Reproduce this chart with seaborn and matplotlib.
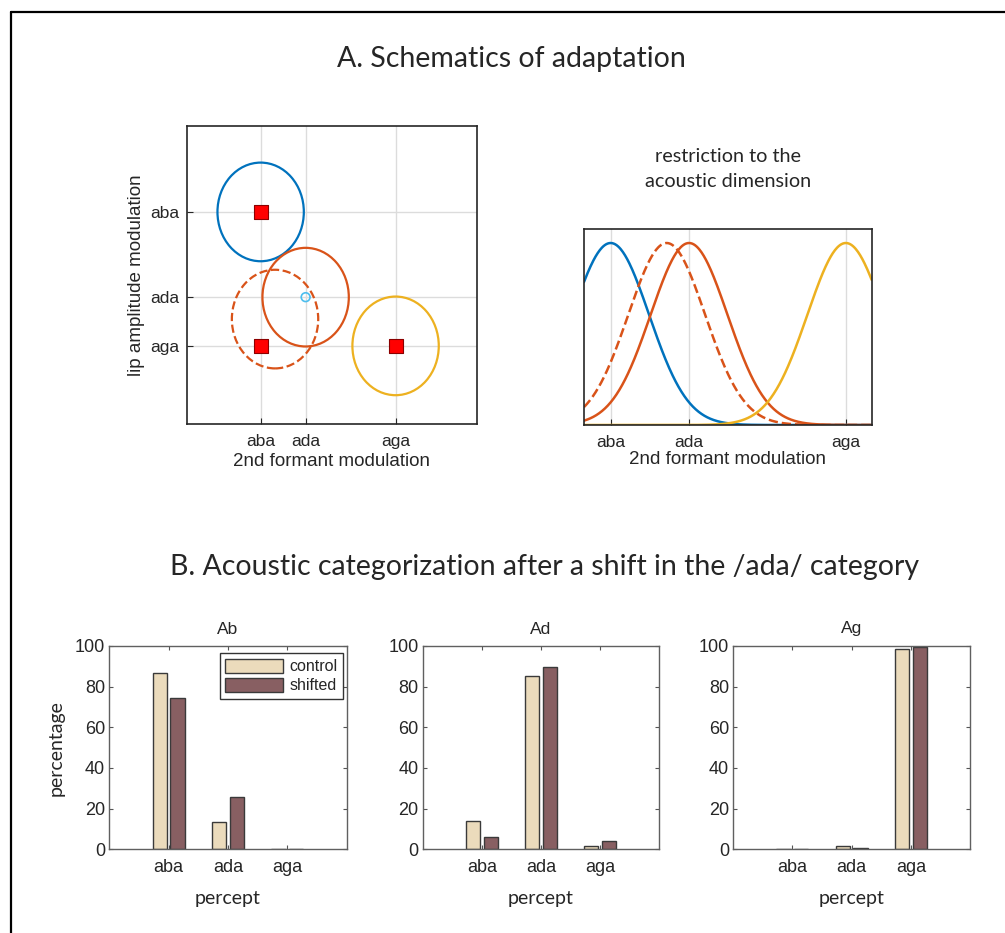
import numpy as np
import pandas as pd
import matplotlib
matplotlib.use('Agg')
import matplotlib.pyplot as plt
from matplotlib.patches import Ellipse
from matplotlib.lines import Line2D
import seaborn as sns

# ---- data ----
phonemes = ['aba', 'ada', 'aga']
formant_pos = [1.0, 2.0, 4.0]   # category positions on the 2nd formant axis
lip_pos = [0.80, 0.45, 0.25]    # category positions on the lip amplitude axis

# category ellipses in the 2D space
ell_x = [1.0, 2.0, 1.32, 4.0]
ell_y = [0.80, 0.45, 0.36, 0.25]
ell_w = 1.92
ell_h = 0.405
ell_colors = ['#0072BD', '#D95319', '#D95319', '#EDB120']
ell_styles = ['-', '-', '--', '-']

# stimuli (red squares)
stim_x = [1.0, 1.0, 4.0]
stim_y = [0.80, 0.25, 0.25]

# 1D restriction: gaussian centers and common width
curve_centers = [1.0, 1.715, 2.0, 4.0]
curve_sigma = 0.49
curve_colors = ['#0072BD', '#D95319', '#D95319', '#EDB120']
curve_styles = ['-', '--', '-', '-']

percepts = ['aba', 'ada', 'aga']
ab_control = [86.6, 13.6, 0.2]
ab_shifted = [74.6, 25.6, 0.2]
ad_control = [13.9, 85.2, 1.5]
ad_shifted = [6.2, 89.7, 4.3]
ag_control = [0.2, 1.4, 98.7]
ag_shifted = [0.2, 0.6, 99.7]

sns.set_style('white')
plt.rcParams['font.family'] = ['Liberation Sans', 'DejaVu Sans']
CAL = 'Lato'

W, H = 1005, 933
fig = plt.figure(figsize=(W / 100, H / 100), dpi=100)


def px_axes(l, t, r, b):
    return fig.add_axes([l / W, 1 - b / H, (r - l) / W, (b - t) / H])


# figure frame (top + left only, as in the source)
fig.add_artist(Line2D([11 / W, 1], [1 - 11.5 / H] * 2, transform=fig.transFigure, color='black', lw=1.6))
fig.add_artist(Line2D([11 / W] * 2, [0, 1 - 11.5 / H], transform=fig.transFigure, color='black', lw=1.6))

fig.text(511 / W, 1 - 59 / H, 'A. Schematics of adaptation', family=CAL, fontsize=20.5, ha='center', va='center')
fig.text(545 / W, 1 - 567 / H, 'B. Acoustic categorization after a shift in the /ada/ category',
         family=CAL, fontsize=20.5, ha='center', va='center')

# ---- A left: 2D schematic ----
ax1 = px_axes(186.7, 125.7, 477, 424.3)
ax1.set_xlim(-0.644, 5.81)
ax1.set_ylim(-0.072, 1.154)
ax1.set_xticks(formant_pos)
ax1.set_xticklabels(phonemes)
ax1.set_yticks(sorted(lip_pos))
ax1.set_yticklabels([phonemes[lip_pos.index(v)] for v in sorted(lip_pos)])
ax1.grid(True, color='#dcdcdc', lw=1)
ax1.set_axisbelow(True)
for x, y, c, ls in zip(ell_x, ell_y, ell_colors, ell_styles):
    ax1.add_patch(Ellipse((x, y), ell_w, ell_h, fill=False, edgecolor=c, lw=1.6, linestyle=ls))
sns.scatterplot(x=stim_x, y=stim_y, marker='s', s=110, color='#ff0000', edgecolor='#8b0000',
                linewidth=0.8, ax=ax1, zorder=5)
sns.scatterplot(x=[formant_pos[1]], y=[lip_pos[1]], marker='o', s=40, facecolor='none',
                edgecolor='#4DBEEE', linewidth=1.2, ax=ax1, zorder=5)
ax1.set_xlabel('2nd formant modulation', fontsize=13.5)
ax1.set_ylabel('lip amplitude modulation', fontsize=13.5)
ax1.xaxis.set_label_coords(0.5, -0.095)
ax1.yaxis.set_label_coords(-0.143, 0.5)
ax1.tick_params(direction='in', length=4, labelsize=12.5, left=True, bottom=True)
ax1.tick_params(axis='x', pad=7)
ax1.tick_params(axis='y', pad=5)

# ---- A right: restriction to acoustic dimension ----
ax2 = px_axes(584, 229, 871.7, 425)
xs = np.linspace(0.66, 4.33, 400)
for mu, c, ls in zip(curve_centers, curve_colors, curve_styles):
    ys = np.exp(-(xs - mu) ** 2 / (2 * curve_sigma ** 2))
    sns.lineplot(x=xs, y=ys, color=c, linestyle=ls, lw=1.8, ax=ax2)
ax2.set_xlim(0.66, 4.33)
ax2.set_ylim(0, 1.077)
ax2.set_xticks(formant_pos)
ax2.set_xticklabels(phonemes)
ax2.set_yticks([])
ax2.grid(True, axis='x', color='#dcdcdc', lw=1)
ax2.set_axisbelow(True)
ax2.set_xlabel('2nd formant modulation', fontsize=13.5)
ax2.xaxis.set_label_coords(0.5, -0.135)
ax2.tick_params(direction='in', length=4, labelsize=12.5, pad=7, bottom=True)
ax2.set_title('restriction to the\nacoustic dimension', family=CAL, fontsize=14.3, pad=30, linespacing=1.6)

for ax in (ax1, ax2):
    for s in ax.spines.values():
        s.set_color('#262626')
        s.set_linewidth(1.2)

# ---- B: bar panels ----
bar_rects = [(109.3, 646, 346.7, 849.3), (422.7, 646, 659.3, 849.3), (733.3, 646, 970, 849.3)]
panels = [('Ab', ab_control, ab_shifted), ('Ad', ad_control, ad_shifted), ('Ag', ag_control, ag_shifted)]
pal = {'control': '#F3DDB4', 'shifted': '#8F585C'}

for i, (rect, (name, ctl, shf)) in enumerate(zip(bar_rects, panels)):
    ax = px_axes(*rect)
    df = pd.DataFrame({
        'percept': percepts * 2,
        'percentage': ctl + shf,
        'condition': ['control'] * 3 + ['shifted'] * 3,
    })
    sns.barplot(data=df, x='percept', y='percentage', hue='condition', palette=pal,
                width=0.6, gap=0.2, edgecolor='#3a3a3a', linewidth=1, ax=ax, legend=(i == 0))
    ax.set_xlim(-1, 3)
    ax.set_ylim(0, 100)
    ax.set_yticks([0, 20, 40, 60, 80, 100])
    ax.set_title(name, fontsize=12.5, pad=9)
    ax.set_xlabel('percept', family=CAL, fontsize=14)
    ax.xaxis.set_label_coords(0.5, -0.2)
    if i == 0:
        ax.set_ylabel('percentage', family=CAL, fontsize=14)
        ax.yaxis.set_label_coords(-0.19, 0.5)
        sns.move_legend(ax, 'upper right', title=None, frameon=True, fontsize=11.5,
                        handlelength=3.6, handleheight=1.05, borderpad=0.35, labelspacing=0.2,
                        handletextpad=0.4, fancybox=False, edgecolor='#333333', framealpha=1,
                        borderaxespad=0, bbox_to_anchor=(0.984, 0.966))
    else:
        ax.set_ylabel('')
    ax.tick_params(direction='in', length=3, labelsize=13, top=True, right=True,
                   bottom=True, left=True, color='#555555')
    ax.tick_params(axis='x', pad=7)
    ax.tick_params(axis='y', pad=3)
    for s in ax.spines.values():
        s.set_color('#606060')
        s.set_linewidth(1)

fig.savefig('out.png', dpi=100)
